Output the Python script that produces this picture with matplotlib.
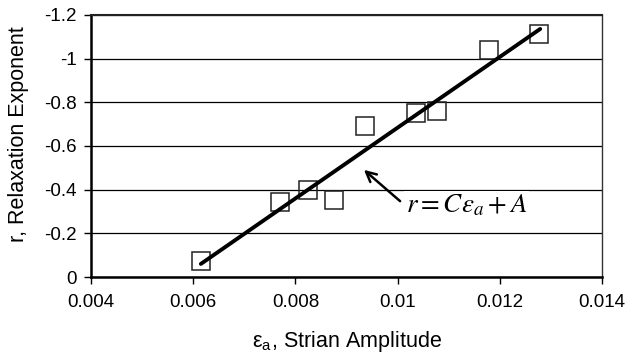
import matplotlib
matplotlib.use("Agg")
import matplotlib.pyplot as plt

plt.rcParams['font.family'] = ['Liberation Sans', 'DejaVu Sans']
plt.rcParams['mathtext.fontset'] = 'stix'

# Data
strain_amp = [0.00615, 0.0077, 0.00825, 0.00876, 0.00936, 0.01036, 0.01077, 0.01179, 0.01277]
relax_exp = [-0.075, -0.344, -0.40, -0.353, -0.69, -0.751, -0.760, -1.04, -1.113]
fit_x = [0.00615, 0.01279]
fit_y = [-0.06, -1.136]
x_ticks = [0.004, 0.006, 0.008, 0.01, 0.012, 0.014]
x_tick_labels = ['0.004', '0.006', '0.008', '0.01', '0.012', '0.014']
y_ticks = [0, -0.2, -0.4, -0.6, -0.8, -1.0, -1.2]
y_tick_labels = ['0', '-0.2', '-0.4', '-0.6', '-0.8', '-1', '-1.2']

fig = plt.figure(figsize=(6.44, 3.56), dpi=100)
ax = fig.add_axes([0.1413, 0.2219, 0.7935, 0.736])

ax.set_xlim(0.004, 0.014)
ax.set_ylim(0, -1.2)

for yv in y_ticks:
    ax.axhline(yv, color='black', lw=0.9, zorder=1)

ax.plot(strain_amp, relax_exp, linestyle='none', marker='s', markersize=13.5,
        markerfacecolor='none', markeredgecolor='#222222', markeredgewidth=1.1, zorder=3)
ax.plot(fit_x, fit_y, color='black', lw=2.8, solid_capstyle='round', zorder=4)

ax.annotate('', xy=(0.0093, -0.499), xytext=(0.01009, -0.339),
            arrowprops=dict(arrowstyle='->', color='black', lw=1.8, mutation_scale=18), zorder=5)
ax.text(0.01016, -0.33, r'$r = C\varepsilon_a + A$', fontsize=19.5, ha='left', va='center',
        bbox=dict(facecolor='white', edgecolor='none', pad=1), zorder=5)

ax.set_xticks(x_ticks)
ax.set_xticklabels(x_tick_labels)
ax.set_yticks(y_ticks)
ax.set_yticklabels(y_tick_labels)
ax.tick_params(axis='both', labelsize=13.5, direction='out', length=5, width=1, color='black')
ax.tick_params(axis='x', pad=7)
ax.tick_params(axis='y', pad=5)

for side in ['left', 'bottom']:
    ax.spines[side].set_linewidth(1.8)
    ax.spines[side].set_color('black')
ax.spines['top'].set_linewidth(1.5)
ax.spines['top'].set_color('#222222')
ax.spines['right'].set_linewidth(1.0)
ax.spines['right'].set_color('#333333')

ax.set_xlabel('ε$_{\\mathregular{a}}$, Strian Amplitude', fontsize=15.5, labelpad=13)
ax.set_ylabel('r, Relaxation Exponent', fontsize=15.5, labelpad=11)
ax.yaxis.label.set_y(0.546)

fig.savefig('out.png', dpi=100)
